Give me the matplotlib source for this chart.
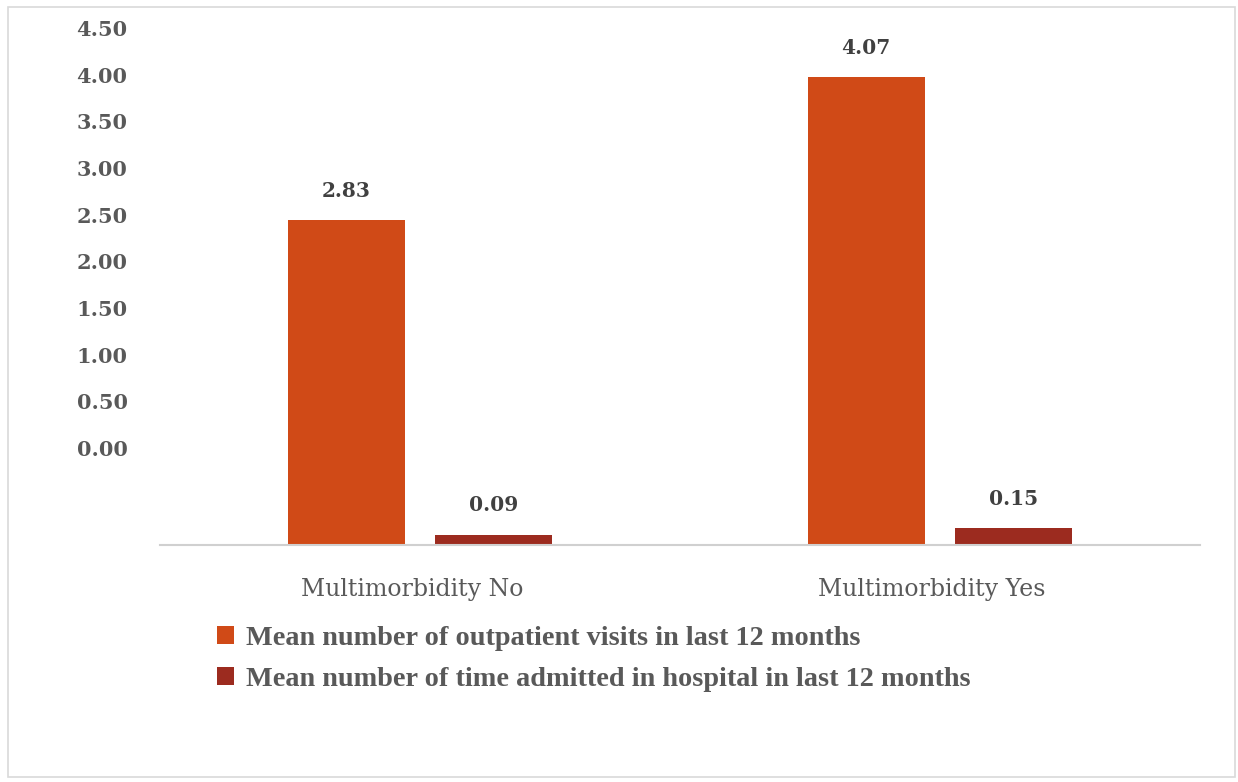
import matplotlib
matplotlib.use("Agg")
import matplotlib.pyplot as plt
from matplotlib.patches import Rectangle, Patch

# ---- data ----
categories = ["Multimorbidity No", "Multimorbidity Yes"]
series_names = [
    "Mean number of outpatient visits in last 12 months",
    "Mean number of time admitted in hospital in last 12 months",
]
outpatient = [2.83, 4.07]
admitted = [0.09, 0.15]
y_tick_values = [0.00, 0.50, 1.00, 1.50, 2.00, 2.50, 3.00, 3.50, 4.00, 4.50]

# ---- style ----
C_OUT = "#D04A17"
C_ADM = "#9C2B1F"
GRAY = "#595959"
W, H = 1238, 782

fig = plt.figure(figsize=(W / 100, H / 100), dpi=100)
fig.patch.set_facecolor("white")

# outer border
fig.add_artist(Rectangle((8 / W, 1 - 777 / H), (1235 - 8) / W, (777 - 7) / H,
                         transform=fig.transFigure, fill=False,
                         edgecolor="#d9d9d9", lw=1.2))

# main plot area
ax = fig.add_axes([160 / W, 1 - 545 / H, 1040 / W, (545 - 28) / H])
ax.set_xlim(-0.5, 1.5)
ax.set_ylim(0, 4.5)
x = list(range(len(categories)))
off = 0.142
bw = 0.225
b1 = ax.bar([i - off for i in x], outpatient, width=bw, color=C_OUT)
b2 = ax.bar([i + off for i in x], admitted, width=bw, color=C_ADM)

for bars, vals in ((b1, outpatient), (b2, admitted)):
    for rect, v in zip(bars, vals):
        ax.annotate(f"{v:.2f}", (rect.get_x() + rect.get_width() / 2, v),
                    xytext=(0, 21), textcoords="offset points",
                    ha="center", va="center", fontsize=14.5,
                    fontweight="bold", family="DejaVu Serif", color="#404040")

for s in ("top", "right", "left"):
    ax.spines[s].set_visible(False)
ax.spines["bottom"].set_color("#d0d0d0")
ax.spines["bottom"].set_linewidth(1.5)
ax.set_yticks([])
ax.set_xticks([i - 0.015 for i in x])
ax.set_xticklabels(categories, family="DejaVu Serif", fontsize=17, color=GRAY)
ax.tick_params(axis="x", length=0, pad=24)
ax.patch.set_alpha(0)

# detached value axis (as drawn in the original)
axt = fig.add_axes([140 / W, 1 - 448 / H, 1 / W, (448 - 28) / H])
axt.set_ylim(0, 4.5)
axt.set_yticks(y_tick_values)
axt.set_yticklabels([f"{v:.2f}" for v in y_tick_values],
                    family="DejaVu Serif", fontweight="bold", fontsize=15, color=GRAY)
axt.tick_params(axis="y", length=0, pad=9)
axt.set_xticks([])
for s in axt.spines.values():
    s.set_visible(False)
axt.patch.set_alpha(0)

# legend
handles = [Patch(facecolor=C_OUT), Patch(facecolor=C_ADM)]
leg = fig.legend(handles, series_names, loc="upper left",
                 bbox_to_anchor=(217 / W, 1 - 626 / H), frameon=False,
                 borderpad=0, borderaxespad=0, handlelength=0.62, handleheight=0.62,
                 handletextpad=0.4, labelspacing=0.55,
                 prop={"family": "Liberation Serif", "weight": "bold", "size": 20.3})
for t in leg.get_texts():
    t.set_color(GRAY)

fig.savefig("out.png", dpi=100)
